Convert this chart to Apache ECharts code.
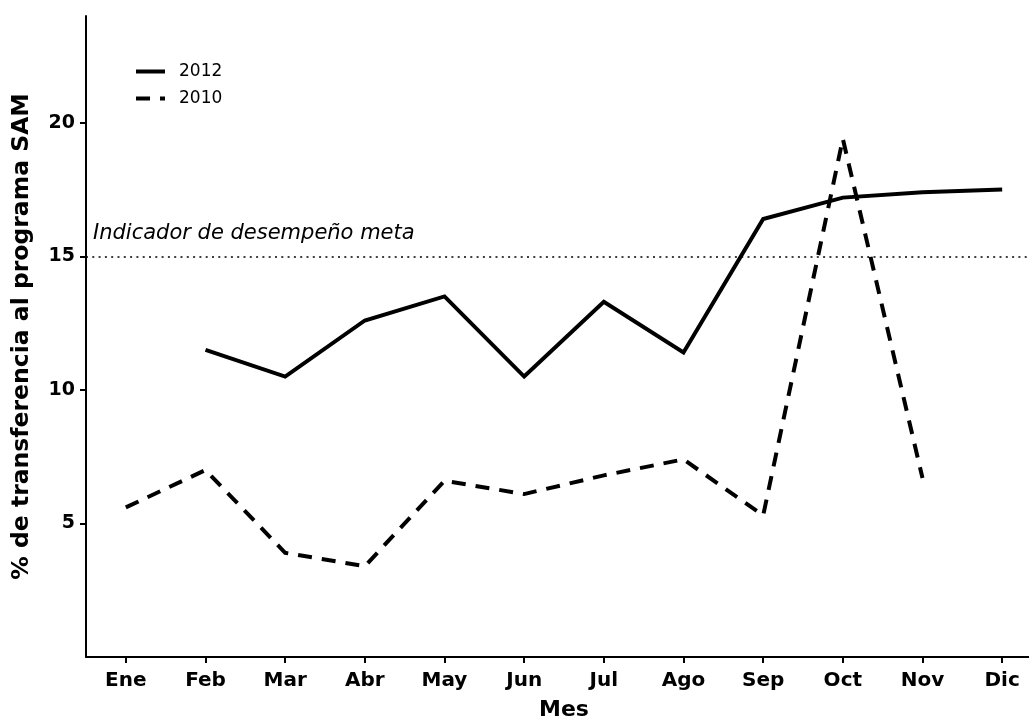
<!DOCTYPE html>
<html>
<head>
<meta charset="utf-8">
<title>% de transferencia al programa SAM</title>
<script src="https://cdn.jsdelivr.net/npm/echarts@6/dist/echarts.min.js"></script>
<style>
  html, body { margin: 0; padding: 0; background: #fff; overflow: hidden; }
  #chart { width: 1029px; height: 718px; }
</style>
</head>
<body>
<div id="chart"></div>
<script>
// Months shown on the horizontal axis
const meses = ['Ene', 'Feb', 'Mar', 'Abr', 'May', 'Jun', 'Jul', 'Ago', 'Sep', 'Oct', 'Nov', 'Dic'];

// Monthly transfer share (%) for each year; null where there is no data
const serie2012 = [null, 11.5, 10.5, 12.6, 13.5, 10.5, 13.3, 11.4, 16.4, 17.2, 17.4, 17.5];
const serie2010 = [5.6, 7.0, 3.9, 3.4, 6.6, 6.1, 6.8, 7.4, 5.3, 19.4, 6.7, null];

// Performance target
const meta = 15;
const metaTexto = 'Indicador de desempeño meta';

const FONT = '"DejaVu Sans", "Liberation Sans", Arial, sans-serif';

const chart = echarts.init(document.getElementById('chart'), null, { renderer: 'canvas', width: 1029, height: 718 });

chart.setOption({
  animation: false,
  backgroundColor: '#ffffff',
  textStyle: { fontFamily: FONT, color: '#000' },
  // plot panel runs slightly past the right edge, so the last half-band is cut off
  grid: { left: 86, top: 16, width: 956, height: 641, containLabel: false, outerBoundsMode: 'none' },
  legend: {
    orient: 'vertical',
    left: 129,
    top: 58,
    itemWidth: 29,
    itemHeight: 18,
    itemGap: 10,
    itemStyle: { opacity: 0 },
    lineStyle: { width: 4 },
    textStyle: { fontFamily: FONT, fontSize: 17, color: '#000', padding: [0, 0, 0, 9] },
    data: ['2012', '2010']
  },
  xAxis: {
    type: 'category',
    data: meses,
    boundaryGap: true,
    name: 'Mes',
    nameLocation: 'middle',
    nameGap: 42,
    nameTextStyle: { fontFamily: FONT, fontSize: 22, fontWeight: 'bold', color: '#000' },
    axisLine: { show: true, lineStyle: { color: '#000', width: 2 } },
    axisTick: { show: true, alignWithLabel: true, length: 6, lineStyle: { color: '#000', width: 2 } },
    axisLabel: { margin: 14, fontFamily: FONT, fontSize: 20, fontWeight: 'bold', color: '#000' },
    splitLine: { show: false }
  },
  yAxis: {
    type: 'value',
    min: 0,
    max: 24,
    interval: 5,
    name: '% de transferencia al programa SAM',
    nameLocation: 'middle',
    nameGap: 52,
    nameTextStyle: { fontFamily: FONT, fontSize: 23.5, fontWeight: 'bold', color: '#000' },
    axisLine: { show: true, lineStyle: { color: '#000', width: 2 } },
    axisTick: { show: true, length: 6, lineStyle: { color: '#000', width: 2 } },
    axisLabel: {
      showMinLabel: false,
      showMaxLabel: false,
      margin: 11,
      fontFamily: FONT,
      fontSize: 19,
      fontWeight: 'bold',
      color: '#000'
    },
    splitLine: { show: false }
  },
  series: [
    {
      name: '2012',
      type: 'line',
      data: serie2012,
      connectNulls: false,
      showSymbol: false,
      symbol: 'none',
      lineStyle: { color: '#000', width: 4, type: 'solid', join: 'miter' },
      itemStyle: { color: '#000' },
      markLine: {
        silent: true,
        symbol: ['none', 'none'],
        lineStyle: { color: '#000', width: 1.6, type: [2, 4.3] },
        label: {
          show: true,
          position: 'insideStartTop',
          distance: [7, 12],
          formatter: metaTexto,
          fontFamily: FONT,
          fontSize: 21,
          fontStyle: 'italic',
          color: '#000'
        },
        data: [{ yAxis: meta }]
      }
    },
    {
      name: '2010',
      type: 'line',
      data: serie2010,
      connectNulls: false,
      showSymbol: false,
      symbol: 'none',
      lineStyle: { color: '#000', width: 4, type: [14, 10], cap: 'butt', join: 'miter' },
      itemStyle: { color: '#000' }
    }
  ]
});
</script>
</body>
</html>
